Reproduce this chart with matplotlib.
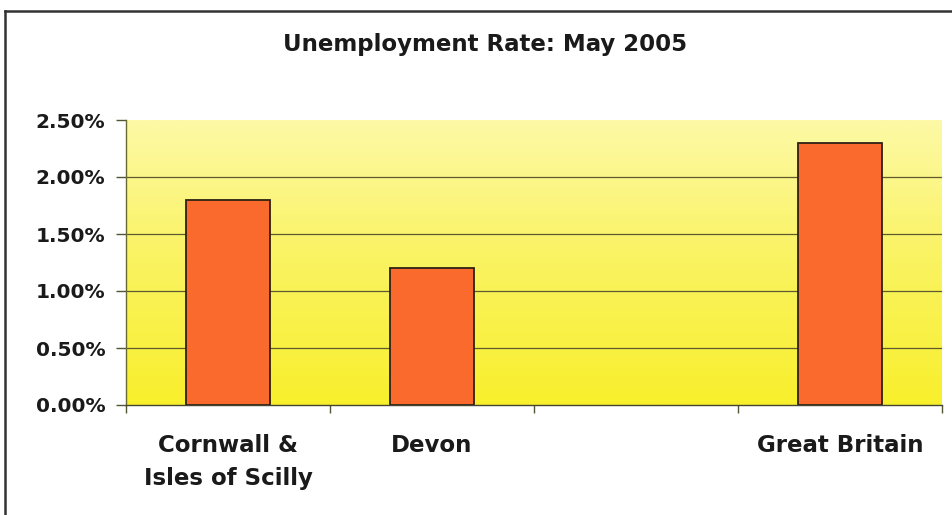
import numpy as np
import matplotlib
matplotlib.use("Agg")
import matplotlib.pyplot as plt
from matplotlib.colors import LinearSegmentedColormap
from matplotlib.font_manager import FontProperties

title = "Unemployment Rate: May 2005"
categories = ["Cornwall &\nIsles of Scilly", "Devon", "", "Great Britain"]
values = [1.8, 1.2, None, 2.3]
yticks = [0.0, 0.5, 1.0, 1.5, 2.0, 2.5]

plt.rcParams['font.family'] = ['DejaVu Sans']

fig = plt.figure(figsize=(9.53, 5.15), dpi=100)
fig.patch.set_facecolor('white')

# outer frame (top and left visible)
fig.add_artist(plt.Line2D([5/953, 1.0], [1-11/515, 1-11/515], color='#333333', lw=1.8, transform=fig.transFigure))
fig.add_artist(plt.Line2D([5/953, 5/953], [1-11/515, 0.0], color='#333333', lw=1.8, transform=fig.transFigure))

ax = fig.add_axes([126/953, 1-405/515, 816/953, 285/515])
ax.set_xlim(-0.5, len(categories) - 0.5)
ax.set_ylim(0, 2.5)

# gradient background
cmap = LinearSegmentedColormap.from_list('bg', ['#f8ef2c', '#faf360', '#fdf9a6'])
grad = np.linspace(0, 1, 256).reshape(-1, 1)
ax.imshow(grad, cmap=cmap, origin='lower', aspect='auto',
          extent=[-0.5, len(categories) - 0.5, 0, 2.5], zorder=0)

for y in yticks[1:-1]:
    ax.axhline(y, color='#5e5a2e', lw=0.9, zorder=1)

xs = [i for i, v in enumerate(values) if v is not None]
hs = [v for v in values if v is not None]
ax.bar(xs, hs, width=0.41, color='#fa6a2c', edgecolor='#2e2214', linewidth=1.3, zorder=3)

for s in ['top', 'right']:
    ax.spines[s].set_visible(False)
ax.spines['left'].set_color('#6a6a30')
ax.spines['left'].set_linewidth(1.0)
ax.spines['bottom'].set_color('#444433')
ax.spines['bottom'].set_linewidth(1.0)
ax.spines['left'].set_zorder(4)
ax.spines['bottom'].set_zorder(4)

yfont = FontProperties(family='DejaVu Sans', weight='bold', size=14.5)
ax.set_yticks(yticks)
ax.set_yticklabels([f"{v:.2f}%" for v in yticks], fontproperties=yfont, color='#1a1a1a')
ax.tick_params(axis='y', length=7, width=1, color='#555533', pad=8)

xfont = FontProperties(family='DejaVu Sans', weight='bold', size=16.5)
ax.set_xticks(range(len(categories)))
ax.set_xticklabels(categories, fontproperties=xfont, color='#1a1a1a', linespacing=1.55)
ax.tick_params(axis='x', which='major', length=0, pad=21)
ax.set_xticks(np.arange(-0.5, len(categories)), minor=True)
ax.tick_params(axis='x', which='minor', length=6, width=1, color='#555533', direction='out')

fig.text(485/953, 1-45/515, title, ha='center', va='center',
         fontproperties=FontProperties(family='DejaVu Sans', weight='bold', size=16.5),
         color='#1a1a1a')

fig.savefig('out.png', dpi=100, facecolor='white')
